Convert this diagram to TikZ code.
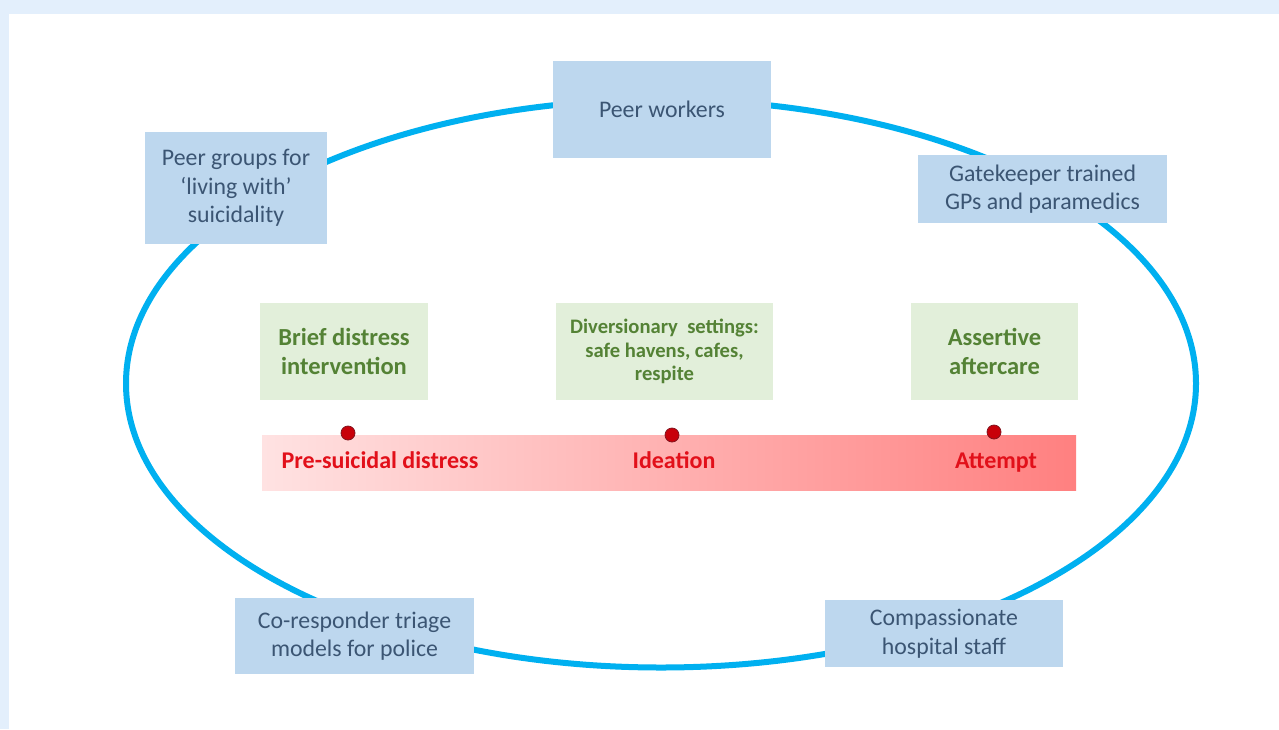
\documentclass[tikz,border=0pt]{standalone}
\usepackage{fontspec}
\setmainfont{Carlito}
\definecolor{bgblue}{RGB}{227,239,252}
\definecolor{ringblue}{RGB}{0,176,240}
\definecolor{boxblue}{RGB}{189,215,238}
\definecolor{txtblue}{RGB}{59,85,115}
\definecolor{boxgreen}{RGB}{226,239,218}
\definecolor{txtgreen}{RGB}{84,130,53}
\definecolor{txtred}{RGB}{226,16,26}
\definecolor{barleft}{RGB}{255,226,226}
\definecolor{barright}{RGB}{255,128,128}
\definecolor{dotfill}{RGB}{200,0,10}
\definecolor{dotline}{RGB}{130,20,30}
\tikzset{
  bluebox/.style={fill=boxblue, text=txtblue, align=center, inner sep=0pt,
    font=\fontsize{23.8}{28.5}\selectfont},
  greenbox/.style={fill=boxgreen, text=txtgreen, align=center, inner sep=0pt,
    font=\fontsize{24.5}{28.5}\selectfont\bfseries},
  redlabel/.style={text=txtred, anchor=base, inner sep=0pt,
    font=\fontsize{24}{28}\selectfont\bfseries},
  stagedot/.style={circle, fill=dotfill, draw=dotline, line width=0.8pt,
    minimum size=14pt, inner sep=0pt},
  ring/.style={draw=ringblue, line width=6pt}
}
\begin{document}
\begin{tikzpicture}[x=1pt,y=-1pt]
\useasboundingbox (0,0) rectangle (1279,729);
\fill[bgblue] (0,0) rectangle (1279,729);
\fill[white] (9,14) rectangle (1279,729);
% ring
\draw[ring] (661,383.5) ellipse [x radius=535, y radius=284];
% blue boxes
\node[bluebox, minimum width=218, minimum height=97] (peerw) at (662,109.5) {Peer workers};
\node[bluebox, minimum width=182, minimum height=112] (peerg) at (236,188) {Peer groups for\\‘living with’\\suicidality};
\node[bluebox, minimum width=249, minimum height=68] (gate) at (1042.5,189) {Gatekeeper trained\\GPs and paramedics};
\node[bluebox, minimum width=239, minimum height=76] (corr) at (354.5,636) {Co-responder triage\\models for police};
\node[bluebox, minimum width=238, minimum height=67] (comp) at (944,633.5) {Compassionate\\hospital staff};
% green boxes
\node[greenbox, minimum width=168, minimum height=97] (brief) at (344,351.5) {Brief distress\\intervention};
\node[greenbox, minimum width=217, minimum height=97, font=\fontsize{20.6}{23.5}\selectfont\bfseries] (div) at (664.5,351.5) {Diversionary\ \ settings:\\safe havens, cafes,\\respite};
\node[greenbox, minimum width=167, minimum height=97] (assert) at (994.5,351.5) {Assertive\\aftercare};
% red bar
\shade[left color=barleft, right color=barright] (262,435) rectangle (1076,490);
\node[redlabel] (pre) at (380,468) {Pre-suicidal distress};
\node[redlabel] (idea) at (674,468) {Ideation};
\node[redlabel] (att) at (996,468) {Attempt};
\node[stagedot] (d1) at (348,433) {};
\node[stagedot] (d2) at (672,435) {};
\node[stagedot] (d3) at (994,432) {};
\end{tikzpicture}
\end{document}
